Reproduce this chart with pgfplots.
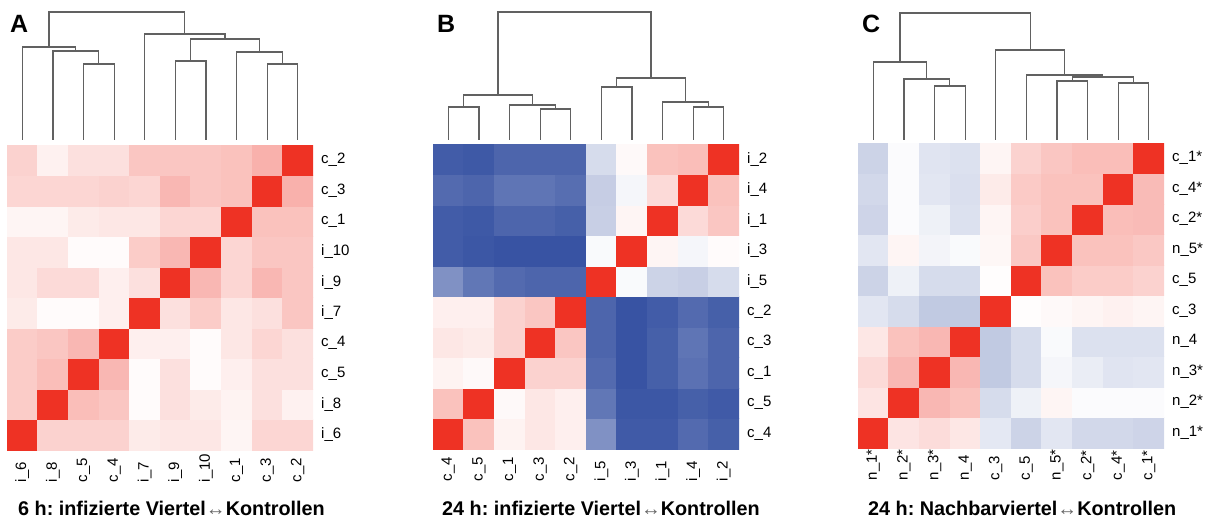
\documentclass[border=0pt]{standalone}
\usepackage{pgfplots}
\pgfplotsset{compat=1.18}
\usepackage{fontspec}
\setmainfont{Liberation Sans}
\frenchspacing
\pgfplotsset{
  heat/.style={
    scale only axis, width=306pt, height=305pt,
    xmin=0, xmax=10, ymin=0, ymax=10,
    axis line style={draw=none}, major tick length=0pt,
    xtick={0.5,1.5,...,9.5}, ytick={0.5,1.5,...,9.5},
    yticklabel pos=right,
    colormap={bwr}{rgb255(0cm)=(50,78,160); rgb255(1cm)=(255,255,255); rgb255(2cm)=(238,50,36)},
    point meta min=-1, point meta max=1,
    tick label style={font=\fontsize{15}{18}\selectfont},
    yticklabel style={anchor=west, inner sep=0pt},
    yticklabel shift=8pt,
    xticklabel style={rotate=90, anchor=east, text width=28pt, align=left, inner sep=0pt},
    xticklabel shift=4pt,
  },
  dendro/.style={
    scale only axis, width=306pt, height=128pt,
    xmin=0, xmax=10, ymin=0, ymax=128, hide axis, clip=false,
  },
  dl/.style={draw=black!62, line width=1.2pt, mark=none},
}
\begin{document}
\begin{tikzpicture}
\path[use as bounding box] (0,0) rectangle (1207pt,520pt);
% ---------------- Panel A ----------------
\begin{axis}[heat, at={(7pt,70pt)}, anchor=south west,
  xticklabels={i\_6,i\_8,c\_5,c\_4,i\_7,i\_9,i\_10,c\_1,c\_3,c\_2},
  yticklabels={i\_6,i\_8,c\_5,c\_4,i\_7,i\_9,i\_10,c\_1,c\_3,c\_2}]
\addplot[matrix plot*, mesh/cols=10, point meta=explicit] coordinates {
(0.5,0.5)[1] (1.5,0.5)[0.22] (2.5,0.5)[0.22] (3.5,0.5)[0.22] (4.5,0.5)[0.1] (5.5,0.5)[0.12] (6.5,0.5)[0.12] (7.5,0.5)[0.05] (8.5,0.5)[0.2] (9.5,0.5)[0.2]
(0.5,1.5)[0.25] (1.5,1.5)[1] (2.5,1.5)[0.32] (3.5,1.5)[0.28] (4.5,1.5)[0.02] (5.5,1.5)[0.15] (6.5,1.5)[0.1] (7.5,1.5)[0.06] (8.5,1.5)[0.15] (9.5,1.5)[0.07]
(0.5,2.5)[0.25] (1.5,2.5)[0.32] (2.5,2.5)[1] (3.5,2.5)[0.35] (4.5,2.5)[0.02] (5.5,2.5)[0.15] (6.5,2.5)[0.02] (7.5,2.5)[0.08] (8.5,2.5)[0.15] (9.5,2.5)[0.15]
(0.5,3.5)[0.25] (1.5,3.5)[0.28] (2.5,3.5)[0.35] (3.5,3.5)[1] (4.5,3.5)[0.08] (5.5,3.5)[0.08] (6.5,3.5)[0.02] (7.5,3.5)[0.12] (8.5,3.5)[0.2] (9.5,3.5)[0.15]
(0.5,4.5)[0.1] (1.5,4.5)[0.02] (2.5,4.5)[0.02] (3.5,4.5)[0.08] (4.5,4.5)[1] (5.5,4.5)[0.15] (6.5,4.5)[0.25] (7.5,4.5)[0.12] (8.5,4.5)[0.15] (9.5,4.5)[0.28]
(0.5,5.5)[0.12] (1.5,5.5)[0.18] (2.5,5.5)[0.18] (3.5,5.5)[0.08] (4.5,5.5)[0.15] (5.5,5.5)[1] (6.5,5.5)[0.35] (7.5,5.5)[0.2] (8.5,5.5)[0.35] (9.5,5.5)[0.28]
(0.5,6.5)[0.12] (1.5,6.5)[0.12] (2.5,6.5)[0.02] (3.5,6.5)[0.02] (4.5,6.5)[0.25] (5.5,6.5)[0.35] (6.5,6.5)[1] (7.5,6.5)[0.2] (8.5,6.5)[0.28] (9.5,6.5)[0.28]
(0.5,7.5)[0.05] (1.5,7.5)[0.05] (2.5,7.5)[0.1] (3.5,7.5)[0.12] (4.5,7.5)[0.12] (5.5,7.5)[0.2] (6.5,7.5)[0.2] (7.5,7.5)[1] (8.5,7.5)[0.3] (9.5,7.5)[0.3]
(0.5,8.5)[0.2] (1.5,8.5)[0.2] (2.5,8.5)[0.2] (3.5,8.5)[0.22] (4.5,8.5)[0.2] (5.5,8.5)[0.35] (6.5,8.5)[0.28] (7.5,8.5)[0.3] (8.5,8.5)[1] (9.5,8.5)[0.38]
(0.5,9.5)[0.22] (1.5,9.5)[0.07] (2.5,9.5)[0.15] (3.5,9.5)[0.15] (4.5,9.5)[0.28] (5.5,9.5)[0.28] (6.5,9.5)[0.28] (7.5,9.5)[0.3] (8.5,9.5)[0.38] (9.5,9.5)[1]
};
\end{axis}
\begin{axis}[dendro, at={(7pt,380pt)}, anchor=south west]
\addplot[dl] coordinates {(8.5,0) (8.5,76) (9.5,76) (9.5,0)};
\addplot[dl] coordinates {(7.5,0) (7.5,88) (9.0,88) (9.0,76)};
\addplot[dl] coordinates {(5.5,0) (5.5,79) (6.5,79) (6.5,0)};
\addplot[dl] coordinates {(6.0,79) (6.0,101) (8.25,101) (8.25,88)};
\addplot[dl] coordinates {(4.5,0) (4.5,106) (7.125,106) (7.125,101)};
\addplot[dl] coordinates {(2.5,0) (2.5,76) (3.5,76) (3.5,0)};
\addplot[dl] coordinates {(1.5,0) (1.5,89) (3.0,89) (3.0,76)};
\addplot[dl] coordinates {(0.5,0) (0.5,93) (2.25,93) (2.25,89)};
\addplot[dl] coordinates {(1.375,93) (1.375,128) (5.8125,128) (5.8125,106)};
\end{axis}
% ---------------- Panel B ----------------
\begin{axis}[heat, at={(433pt,71pt)}, anchor=south west,
  xticklabels={c\_4,c\_5,c\_1,c\_3,c\_2,i\_5,i\_3,i\_1,i\_4,i\_2},
  yticklabels={c\_4,c\_5,c\_1,c\_3,c\_2,i\_5,i\_3,i\_1,i\_4,i\_2}]
\addplot[matrix plot*, mesh/cols=10, point meta=explicit] coordinates {
(0.5,0.5)[1] (1.5,0.5)[0.3] (2.5,0.5)[0.06] (3.5,0.5)[0.12] (4.5,0.5)[0.08] (5.5,0.5)[-0.62] (6.5,0.5)[-0.93] (7.5,0.5)[-0.93] (8.5,0.5)[-0.84] (9.5,0.5)[-0.9]
(0.5,1.5)[0.3] (1.5,1.5)[1] (2.5,1.5)[0.03] (3.5,1.5)[0.12] (4.5,1.5)[0.08] (5.5,1.5)[-0.77] (6.5,1.5)[-0.95] (7.5,1.5)[-0.95] (8.5,1.5)[-0.9] (9.5,1.5)[-0.93]
(0.5,2.5)[0.06] (1.5,2.5)[0.03] (2.5,2.5)[1] (3.5,2.5)[0.22] (4.5,2.5)[0.22] (5.5,2.5)[-0.84] (6.5,2.5)[-0.97] (7.5,2.5)[-0.9] (8.5,2.5)[-0.8] (9.5,2.5)[-0.87]
(0.5,3.5)[0.12] (1.5,3.5)[0.1] (2.5,3.5)[0.22] (3.5,3.5)[1] (4.5,3.5)[0.28] (5.5,3.5)[-0.87] (6.5,3.5)[-0.97] (7.5,3.5)[-0.9] (8.5,3.5)[-0.78] (9.5,3.5)[-0.87]
(0.5,4.5)[0.08] (1.5,4.5)[0.08] (2.5,4.5)[0.22] (3.5,4.5)[0.28] (4.5,4.5)[1] (5.5,4.5)[-0.87] (6.5,4.5)[-0.97] (7.5,4.5)[-0.92] (8.5,4.5)[-0.84] (9.5,4.5)[-0.9]
(0.5,5.5)[-0.62] (1.5,5.5)[-0.77] (2.5,5.5)[-0.84] (3.5,5.5)[-0.87] (4.5,5.5)[-0.87] (5.5,5.5)[1] (6.5,5.5)[-0.03] (7.5,5.5)[-0.25] (8.5,5.5)[-0.27] (9.5,5.5)[-0.2]
(0.5,6.5)[-0.92] (1.5,6.5)[-0.95] (2.5,6.5)[-0.97] (3.5,6.5)[-0.97] (4.5,6.5)[-0.97] (5.5,6.5)[-0.03] (6.5,6.5)[1] (7.5,6.5)[0.05] (8.5,6.5)[-0.05] (9.5,6.5)[0.02]
(0.5,7.5)[-0.92] (1.5,7.5)[-0.94] (2.5,7.5)[-0.87] (3.5,7.5)[-0.87] (4.5,7.5)[-0.9] (5.5,7.5)[-0.27] (6.5,7.5)[0.05] (7.5,7.5)[1] (8.5,7.5)[0.18] (9.5,7.5)[0.28]
(0.5,8.5)[-0.84] (1.5,8.5)[-0.87] (2.5,8.5)[-0.78] (3.5,8.5)[-0.78] (4.5,8.5)[-0.82] (5.5,8.5)[-0.28] (6.5,8.5)[-0.05] (7.5,8.5)[0.18] (8.5,8.5)[1] (9.5,8.5)[0.3]
(0.5,9.5)[-0.92] (1.5,9.5)[-0.94] (2.5,9.5)[-0.87] (3.5,9.5)[-0.87] (4.5,9.5)[-0.87] (5.5,9.5)[-0.2] (6.5,9.5)[0.03] (7.5,9.5)[0.3] (8.5,9.5)[0.32] (9.5,9.5)[1]
};
\end{axis}
\begin{axis}[dendro, at={(433pt,380pt)}, anchor=south west]
\addplot[dl] coordinates {(0.5,0) (0.5,33) (1.5,33) (1.5,0)};
\addplot[dl] coordinates {(3.5,0) (3.5,31) (4.5,31) (4.5,0)};
\addplot[dl] coordinates {(2.5,0) (2.5,35) (4.0,35) (4.0,31)};
\addplot[dl] coordinates {(1.0,33) (1.0,45) (3.25,45) (3.25,35)};
\addplot[dl] coordinates {(5.5,0) (5.5,53) (6.5,53) (6.5,0)};
\addplot[dl] coordinates {(8.5,0) (8.5,33) (9.5,33) (9.5,0)};
\addplot[dl] coordinates {(7.5,0) (7.5,38) (9.0,38) (9.0,33)};
\addplot[dl] coordinates {(6.0,53) (6.0,62) (8.25,62) (8.25,38)};
\addplot[dl] coordinates {(2.125,45) (2.125,128) (7.125,128) (7.125,62)};
\end{axis}
% ---------------- Panel C ----------------
\begin{axis}[heat, at={(858pt,72pt)}, anchor=south west,
  xticklabels={n\_1*,n\_2*,n\_3*,n\_4,c\_3,c\_5,n\_5*,c\_2*,c\_4*,c\_1*},
  yticklabels={n\_1*,n\_2*,n\_3*,n\_4,c\_3,c\_5,n\_5*,c\_2*,c\_4*,c\_1*}]
\addplot[matrix plot*, mesh/cols=10, point meta=explicit] coordinates {
(0.5,0.5)[1] (1.5,0.5)[0.13] (2.5,0.5)[0.17] (3.5,0.5)[0.12] (4.5,0.5)[-0.13] (5.5,0.5)[-0.25] (6.5,0.5)[-0.14] (7.5,0.5)[-0.22] (8.5,0.5)[-0.22] (9.5,0.5)[-0.24]
(0.5,1.5)[0.13] (1.5,1.5)[1] (2.5,1.5)[0.35] (3.5,1.5)[0.3] (4.5,1.5)[-0.2] (5.5,1.5)[-0.08] (6.5,1.5)[0.05] (7.5,1.5)[-0.02] (8.5,1.5)[-0.02] (9.5,1.5)[-0.02]
(0.5,2.5)[0.18] (1.5,2.5)[0.35] (2.5,2.5)[1] (3.5,2.5)[0.35] (4.5,2.5)[-0.3] (5.5,2.5)[-0.2] (6.5,2.5)[-0.05] (7.5,2.5)[-0.1] (8.5,2.5)[-0.15] (9.5,2.5)[-0.14]
(0.5,3.5)[0.12] (1.5,3.5)[0.3] (2.5,3.5)[0.35] (3.5,3.5)[1] (4.5,3.5)[-0.3] (5.5,3.5)[-0.2] (6.5,3.5)[-0.03] (7.5,3.5)[-0.17] (8.5,3.5)[-0.17] (9.5,3.5)[-0.17]
(0.5,4.5)[-0.14] (1.5,4.5)[-0.2] (2.5,4.5)[-0.3] (3.5,4.5)[-0.3] (4.5,4.5)[1] (5.5,4.5)[0.01] (6.5,4.5)[0.03] (7.5,4.5)[0.05] (8.5,4.5)[0.07] (9.5,4.5)[0.05]
(0.5,5.5)[-0.25] (1.5,5.5)[-0.08] (2.5,5.5)[-0.2] (3.5,5.5)[-0.2] (4.5,5.5)[0.01] (5.5,5.5)[1] (6.5,5.5)[0.3] (7.5,5.5)[0.25] (8.5,5.5)[0.25] (9.5,5.5)[0.22]
(0.5,6.5)[-0.14] (1.5,6.5)[0.05] (2.5,6.5)[-0.06] (3.5,6.5)[-0.03] (4.5,6.5)[0.04] (5.5,6.5)[0.27] (6.5,6.5)[1] (7.5,6.5)[0.3] (8.5,6.5)[0.3] (9.5,6.5)[0.27]
(0.5,7.5)[-0.24] (1.5,7.5)[-0.02] (2.5,7.5)[-0.08] (3.5,7.5)[-0.17] (4.5,7.5)[0.05] (5.5,7.5)[0.24] (6.5,7.5)[0.3] (7.5,7.5)[1] (8.5,7.5)[0.32] (9.5,7.5)[0.33]
(0.5,8.5)[-0.22] (1.5,8.5)[-0.02] (2.5,8.5)[-0.14] (3.5,8.5)[-0.18] (4.5,8.5)[0.1] (5.5,8.5)[0.26] (6.5,8.5)[0.3] (7.5,8.5)[0.3] (8.5,8.5)[1] (9.5,8.5)[0.33]
(0.5,9.5)[-0.25] (1.5,9.5)[-0.02] (2.5,9.5)[-0.15] (3.5,9.5)[-0.17] (4.5,9.5)[0.05] (5.5,9.5)[0.22] (6.5,9.5)[0.28] (7.5,9.5)[0.32] (8.5,9.5)[0.32] (9.5,9.5)[1]
};
\end{axis}
\begin{axis}[dendro, at={(858pt,380pt)}, anchor=south west]
\addplot[dl] coordinates {(2.5,0) (2.5,54) (3.5,54) (3.5,0)};
\addplot[dl] coordinates {(1.5,0) (1.5,61) (3.0,61) (3.0,54)};
\addplot[dl] coordinates {(0.5,0) (0.5,78) (2.25,78) (2.25,61)};
\addplot[dl] coordinates {(6.5,0) (6.5,59) (7.5,59) (7.5,0)};
\addplot[dl] coordinates {(8.5,0) (8.5,57) (9.5,57) (9.5,0)};
\addplot[dl] coordinates {(7.0,59) (7.0,63) (9.0,63) (9.0,57)};
\addplot[dl] coordinates {(5.5,0) (5.5,65) (8.0,65) (8.0,63)};
\addplot[dl] coordinates {(4.5,0) (4.5,90) (6.75,90) (6.75,65)};
\addplot[dl] coordinates {(1.375,78) (1.375,127) (5.625,127) (5.625,90)};
\end{axis}
% ---------------- letters and titles ----------------
\node[anchor=base west, inner sep=0pt, font=\bfseries\fontsize{25}{30}\selectfont] at (10pt,487pt) {A};
\node[anchor=base west, inner sep=0pt, font=\bfseries\fontsize{25}{30}\selectfont] at (437pt,487pt) {B};
\node[anchor=base west, inner sep=0pt, font=\bfseries\fontsize{25}{30}\selectfont] at (862pt,487pt) {C};
\node[anchor=base west, inner sep=0pt, font=\bfseries\fontsize{19.8}{24}\selectfont] at (18pt,5pt) {6 h: infizierte Viertel{\mdseries\color{black!60}↔}Kontrollen};
\node[anchor=base west, inner sep=0pt, font=\bfseries\fontsize{19.8}{24}\selectfont] at (442pt,5pt) {24 h: infizierte Viertel{\mdseries\color{black!60}↔}Kontrollen};
\node[anchor=base west, inner sep=0pt, font=\bfseries\fontsize{19.8}{24}\selectfont] at (868pt,5pt) {24 h: Nachbarviertel{\mdseries\color{black!60}↔}Kontrollen};
\end{tikzpicture}
\end{document}
